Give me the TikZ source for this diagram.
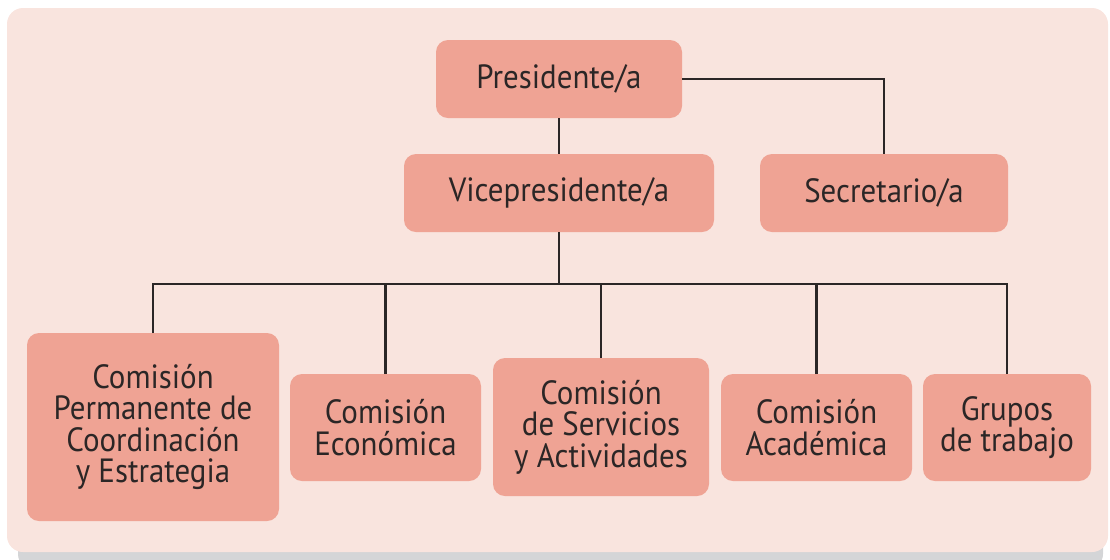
\documentclass[tikz,border=0pt]{standalone}
\usepackage{fontspec}
\setmainfont[FakeStretch=0.92]{PT Sans}
\definecolor{bgpink}{HTML}{F9E4DE}
\definecolor{boxsalmon}{HTML}{EFA394}
\definecolor{shadowgray}{HTML}{D4D5D7}
\definecolor{txtdark}{HTML}{2B2626}
\begin{document}
\begin{tikzpicture}[x=0.5pt,y=-0.5pt,
  orgbox/.style={fill=boxsalmon, draw=none, rounded corners=6pt, inner sep=0pt, outer sep=0pt,
    align=center, text=txtdark, font=\fontsize{16.8}{15.8}\selectfont},
  link/.style={draw=txtdark, line width=1.25pt}]
\useasboundingbox (0,0) rectangle (1110,559);
\clip (0,0) rectangle (1110,559);
\fill[shadowgray, rounded corners=8pt] (18,20) rectangle (1103,570);
\fill[bgpink, rounded corners=8pt] (7,8) rectangle (1108,552);

\node[orgbox, minimum width=123pt, minimum height=39pt] (pres) at (559,79) {Presidente/a};
\node[orgbox, minimum width=155pt, minimum height=39pt] (vice) at (559,193) {Vicepresidente/a};
\node[orgbox, minimum width=124pt, minimum height=39pt] (sec) at (884,193) {Secretario/a};

\node[orgbox, minimum width=126pt, minimum height=94pt] (perm) at (153,427) {Comisión\\Permanente de\\Coordinación\\y Estrategia};
\node[orgbox, minimum width=95.5pt, minimum height=53.5pt] (econ) at (385.5,427.5) {Comisión\\Económica};
\node[orgbox, minimum width=108pt, minimum height=69pt] (serv) at (601,427) {Comisión\\de Servicios\\y Actividades};
\node[orgbox, minimum width=95.5pt, minimum height=53.5pt] (acad) at (816.5,427.5) {Comisión\\Académica};
\node[orgbox, minimum width=84pt, minimum height=53.5pt] (grp) at (1007,427.5) {Grupos\\de trabajo};

\coordinate (bus) at (559,284);

\draw[link] (pres.south) -- (vice.north);
\draw[link] (pres.east) -| (sec.north);
\draw[link] (vice.south) -- (bus);
\draw[link] (perm.north) |- (bus) -| (grp.north);
\draw[link] (econ.north) -- (econ.north |- bus);
\draw[link] (serv.north) -- (serv.north |- bus);
\draw[link] (acad.north) -- (acad.north |- bus);
\end{tikzpicture}
\end{document}
